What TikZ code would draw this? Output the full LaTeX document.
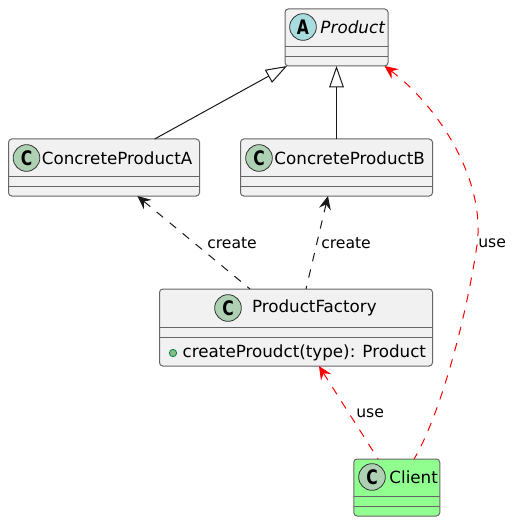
\documentclass[tikz,border=0pt]{standalone}
\usepackage{fontspec}
\setmainfont{DejaVu Sans}
\usetikzlibrary{positioning,arrows.meta}
\definecolor{boxfill}{HTML}{F1F1F1}
\definecolor{boxline}{HTML}{666666}
\definecolor{classcirc}{HTML}{ADD1B2}
\definecolor{abstractcirc}{HTML}{A9DCDF}
\definecolor{clientfill}{HTML}{90FF90}
\definecolor{bulletfill}{HTML}{84BE84}
\definecolor{bulletline}{HTML}{038048}
\newcommand{\circletter}[1]{\scalebox{0.78}[1]{#1}}
\begin{document}
\begin{tikzpicture}[
      x=0.75pt, y=-0.75pt,
      classbox/.style={draw=boxline, fill=boxfill, rectangle, rounded corners=2.5pt, line width=0.75pt, inner sep=0pt, outer sep=0pt},
      circ/.style={draw=black!80, circle, line width=0.6pt, minimum size=20pt, inner sep=0pt, font=\bfseries\fontsize{15pt}{15pt}\selectfont},
      classname/.style={inner sep=0pt, font=\fontsize{12.55pt}{15pt}\selectfont},
      lbl/.style={inner sep=0pt, font=\fontsize{11.7pt}{14pt}\selectfont},
      sepline/.style={draw=boxline, line width=0.75pt},
      inherit/.style={draw=black!90, line width=0.75pt, -{Triangle[open, fill=white, length=16pt, width=11pt]}},
      dep/.style={draw=black!90, line width=0.75pt, dash pattern=on 6.3pt off 6.3pt, {Stealth[length=10pt, width=9pt, inset=3.5pt]}-},
      usedep/.style={dep, draw=red, {Stealth[red, length=10pt, width=9pt, inset=3.5pt]}-}
    ]
    \useasboundingbox (0,0) rectangle (515,524);
    % Classes
    \node [classbox, minimum width=77.25pt, minimum height=42.75pt] (product) at (336.5,37.5) {};
    \node [classbox, minimum width=143.25pt, minimum height=42.75pt] (concreteA) at (104,167.5) {};
    \node [classbox, minimum width=144pt, minimum height=42.75pt] (concreteB) at (336.5,167.5) {};
    \node [classbox, minimum width=204.75pt, minimum height=57.75pt] (factory) at (296,327.5) {};
    \node [classbox, fill=clientfill, minimum width=64.5pt, minimum height=42.75pt] (client) at (396.75,487.5) {};
    % Separators
    \foreach \boxname in {product,concreteA,concreteB,client}
      \foreach \up in {14.6pt,7.1pt}
        \draw [sepline] ([yshift=\up]\boxname.south west) -- ([yshift=\up]\boxname.south east);
    \foreach \up in {29.2pt,21.7pt}
      \draw [sepline] ([yshift=\up]factory.south west) -- ([yshift=\up]factory.south east);
    % Circles and names
    \node [circ, fill=abstractcirc] (circP) at (303,27) {\circletter{A}};
    \node [classname, right=2.6pt of circP, font=\itshape\fontsize{12.6pt}{15pt}\selectfont] (nameP) {Product};
    \node [circ, fill=classcirc] (circA) at (26.5,158) {\circletter{C}};
    \node [classname, right=1.1pt of circA] (nameA) {ConcreteProductA};
    \node [circ, fill=classcirc] (circB) at (259,158) {\circletter{C}};
    \node [classname, right=1.1pt of circB] (nameB) {ConcreteProductB};
    \node [circ, fill=classcirc] (circF) at (228,308) {\circletter{C}};
    \node [classname, right=7.5pt of circF] (nameF) {ProductFactory};
    \node [circ, fill=classcirc] (circC) at (372,477) {\circletter{C}};
    \node [classname, right=2.6pt of circC] (nameC) {Client};
    % Member
    \node [draw=bulletline, fill=bulletfill, circle, line width=0.6pt, minimum size=5.5pt, inner sep=0pt] (bullet) at (173,353) {};
    \node [classname, right=4pt of bullet] (member) {createProudct(type): Product};
    % Inheritance
    \draw [inherit] ([xshift=38pt]concreteA.north) -- ([xshift=-37.1pt]product.south);
    \draw [inherit] (concreteB.north) -- (product.south);
    % Create
    \draw [dep] ([xshift=25pt]concreteA.south) -- ([xshift=-34.5pt]factory.north);
    \draw [dep] ([xshift=-6.4pt]concreteB.south) -- ([xshift=7.5pt]factory.north);
    \node [lbl, anchor=west] (createA) at (207,243) {create};
    \node [lbl, anchor=west] (createB) at (321,243) {create};
    % Use
    \draw [usedep] ([xshift=17.2pt]factory.south) -- ([xshift=-14pt]client.north);
    \draw [usedep] ([xshift=36pt]product.south) .. controls (438,106) and (486,180) .. (477,245)
      .. controls (466,320) and (440,415) .. ([xshift=13pt]client.north);
    \node [lbl, anchor=west] (useF) at (356,413) {use};
    \node [lbl, anchor=west] (useP) at (478,243) {use};
\end{tikzpicture}
\end{document}
